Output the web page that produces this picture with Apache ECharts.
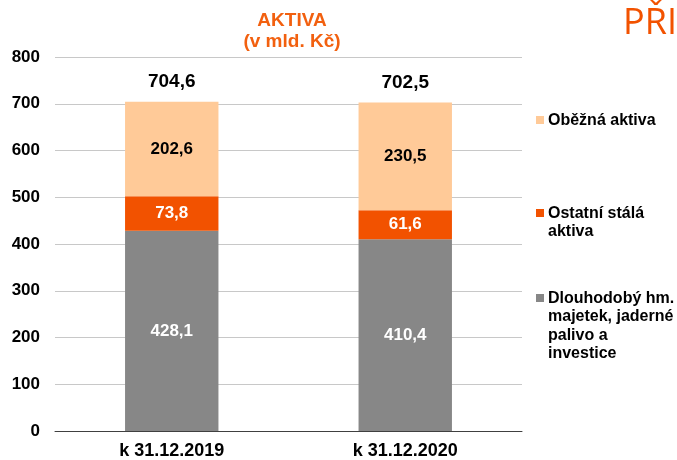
<!DOCTYPE html>
<html>
<head>
<meta charset="utf-8">
<script src="https://cdn.jsdelivr.net/npm/echarts@6/dist/echarts.min.js"></script>
<style>
  html, body { margin: 0; padding: 0; background: #fff; }
  #chart { width: 677px; height: 460px; }
</style>
</head>
<body>
<div id="chart"></div>
<script>
const categories = ['k 31.12.2019', 'k 31.12.2020'];
const dlouhodoby = [428.1, 410.4];
const ostatni = [73.8, 61.6];
const obezna = [202.6, 230.5];
const totals = [704.6, 702.5];
const yTicks = [0, 100, 200, 300, 400, 500, 600, 700, 800];

const seriesNames = ['Dlouhodobý hm.\nmajetek, jaderné\npalivo a\ninvestice', 'Ostatní stálá\naktiva', 'Oběžná aktiva'];
const colors = ['#878787', '#F25200', '#FFCA98'];

const font = '"Liberation Sans", Arial, sans-serif';
const fmt = v => String(v).replace('.', ',');

const chart = echarts.init(document.getElementById('chart'));

// legend drawn as graphic items so the square sits beside the first text line
const legendY = [116, 209, 294];
const legendOrder = [2, 1, 0];
const legendGraphics = [];
legendOrder.forEach((si, i) => {
  legendGraphics.push({
    type: 'rect', left: 536, top: legendY[i],
    shape: { width: 8, height: 8 },
    style: { fill: colors[si] }
  });
  legendGraphics.push({
    type: 'text', left: 548, top: legendY[i] - 5,
    style: {
      text: seriesNames[si], fill: '#000', font: 'bold 16px ' + font,
      lineHeight: 18.5
    }
  });
});

function barLabel(color) {
  return {
    show: true, position: 'inside', color: color,
    fontFamily: font, fontWeight: 'bold', fontSize: 17,
    formatter: p => fmt(p.value)
  };
}

chart.setOption({
  animation: false,
  title: {
    text: 'AKTIVA\n(v mld. Kč)',
    left: 287, top: 5, textAlign: 'center',
    textStyle: { color: '#F2600F', fontFamily: font, fontWeight: 'bold', fontSize: 19, lineHeight: 21 }
  },
  graphic: [
    {
      type: 'text', left: 623, top: 6,
      style: { text: 'PŘI', fill: '#F25200', font: '36px "Open Sans", sans-serif' }
    }
  ].concat(legendGraphics),
  grid: { left: 55, right: 155, top: 57, bottom: 28 },
  xAxis: {
    type: 'category',
    data: categories,
    axisTick: { show: false },
    axisLine: { lineStyle: { color: '#404040', width: 1 } },
    axisLabel: { color: '#000', fontFamily: font, fontWeight: 'bold', fontSize: 18, margin: 11 }
  },
  yAxis: {
    type: 'value',
    min: yTicks[0], max: yTicks[yTicks.length - 1], interval: 100,
    axisLine: { show: false },
    axisTick: { show: false },
    splitLine: { lineStyle: { color: '#C8C8C8' } },
    axisLabel: { color: '#000', fontFamily: font, fontWeight: 'bold', fontSize: 17, margin: 15 }
  },
  series: [
    {
      name: seriesNames[0], type: 'bar', stack: 'a', data: dlouhodoby,
      barWidth: '40%', itemStyle: { color: colors[0] }, label: barLabel('#fff')
    },
    {
      name: seriesNames[1], type: 'bar', stack: 'a', data: ostatni,
      itemStyle: { color: colors[1] }, label: barLabel('#fff')
    },
    {
      name: seriesNames[2], type: 'bar', stack: 'a', data: obezna,
      itemStyle: { color: colors[2] }, label: barLabel('#000')
    },
    {
      name: 'total', type: 'bar', stack: 'a', data: [0, 0],
      itemStyle: { color: 'transparent' },
      label: {
        show: true, position: 'top', distance: 10, color: '#000',
        fontFamily: font, fontWeight: 'bold', fontSize: 19,
        formatter: p => fmt(totals[p.dataIndex])
      }
    }
  ]
});
</script>
</body>
</html>
